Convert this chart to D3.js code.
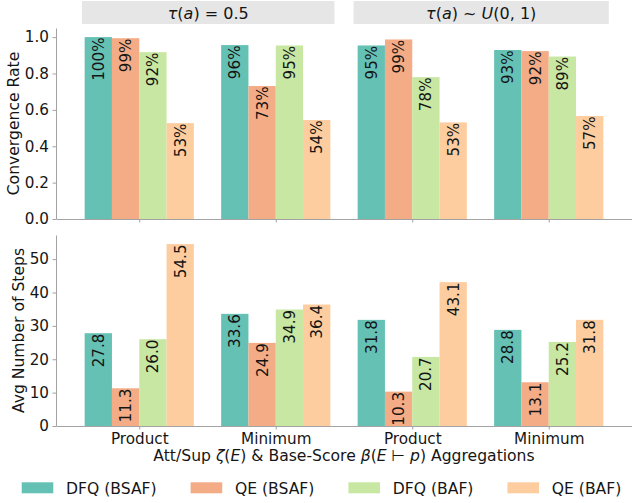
<!DOCTYPE html>
<html>
<head>
<meta charset="utf-8">
<script src="https://cdn.jsdelivr.net/npm/d3@7"></script>
<style>
  html, body { margin: 0; padding: 0; background: #fff; }
  svg { display: block; font-family: "DejaVu Sans", sans-serif; }
</style>
</head>
<body>
<svg id="chart" width="632" height="503"></svg>
<script>
// ---------------- DATA ----------------
const categories = ["Product", "Minimum", "Product", "Minimum"];
const seriesNames = ["DFQ (BSAF)", "QE (BSAF)", "DFQ (BAF)", "QE (BAF)"];
const seriesColors = ["#66c1b5", "#f4ac86", "#c7e7a2", "#fdcd9f"];

// Convergence rate (fraction) per series, across the 4 category positions
const convDFQ_BSAF = [1.00, 0.956, 0.954, 0.929];
const convQE_BSAF  = [0.994, 0.731, 0.987, 0.923];
const convDFQ_BAF  = [0.917, 0.954, 0.780, 0.893];
const convQE_BAF   = [0.527, 0.544, 0.531, 0.566];

// Avg number of steps per series
const stepsDFQ_BSAF = [27.8, 33.6, 31.8, 28.8];
const stepsQE_BSAF  = [11.3, 24.9, 10.3, 13.1];
const stepsDFQ_BAF  = [26.0, 34.9, 20.7, 25.2];
const stepsQE_BAF   = [54.5, 36.4, 43.1, 31.8];

const convTicks  = [0, 0.2, 0.4, 0.6, 0.8, 1.0];
const stepsTicks = [0, 10, 20, 30, 40, 50];

// Panel headers (spans over category positions)
const headerSpans = [[-0.42, 1.43], [1.57, 3.44]];

// ---------------- DRAW ----------------
const svg = d3.select("#chart");
const convData = [convDFQ_BSAF, convQE_BSAF, convDFQ_BAF, convQE_BAF];
const stepsData = [stepsDFQ_BSAF, stepsQE_BSAF, stepsDFQ_BAF, stepsQE_BAF];

const x = d3.scaleLinear().domain([-0.61, 3.61]).range([56, 632]);
const barW = 0.2;
const yTop = d3.scaleLinear().domain([0, 1.05]).range([219, 28]);
const yBot = d3.scaleLinear().domain([0, d3.max(stepsData.flat()) * 1.05]).range([426, 235]);

const spineColor = "#a3a3a3";
const textColor = "#151515";
const tickFont = 15.2;
const labelFont = 15.6;
const barFont = 15.2;

// Headers
const headerG = svg.append("g");
headerSpans.forEach(([a, b]) => {
  headerG.append("rect")
    .attr("x", x(a)).attr("y", 1)
    .attr("width", x(b) - x(a)).attr("height", 23)
    .attr("fill", "#e6e6e6");
});
function header(cx, parts) {
  const t = headerG.append("text")
    .attr("x", cx).attr("y", 18.6)
    .attr("text-anchor", "middle")
    .attr("font-size", 16).attr("fill", textColor);
  parts.forEach(([s, it]) => t.append("tspan").text(s).attr("font-style", it ? "italic" : "normal"));
}
header((x(headerSpans[0][0]) + x(headerSpans[0][1])) / 2,
  [["τ", true], ["(", false], ["a", true], [") = 0.5", false]]);
header((x(headerSpans[1][0]) + x(headerSpans[1][1])) / 2,
  [["τ", true], ["(", false], ["a", true], [") ~ ", false], ["U", true], ["(0, 1)", false]]);

function panel(data, y, ticks, fmtTick, fmtLabel, showX) {
  const g = svg.append("g");
  data.forEach((vals, si) => {
    const off = -0.4 + barW * si;
    vals.forEach((v, ci) => {
      const x0 = x(ci + off), x1 = x(ci + off + barW);
      g.append("rect")
        .attr("x", x0).attr("y", y(v))
        .attr("width", x1 - x0).attr("height", y(0) - y(v))
        .attr("fill", seriesColors[si]);
      const cx = (x0 + x1) / 2;
      g.append("text")
        .attr("transform", `translate(${cx},${y(v) + 0.3}) rotate(-90)`)
        .attr("text-anchor", "end")
        .attr("dy", "0.36em")
        .attr("font-size", barFont)
        .attr("fill", textColor)
        .text(fmtLabel(v));
    });
  });
  const ya = g.append("g").attr("transform", `translate(${x.range()[0]},0)`)
    .call(d3.axisLeft(y).tickValues(ticks).tickFormat(fmtTick).tickSize(3.5).tickPadding(3.5).tickSizeOuter(0));
  const xa = g.append("g").attr("transform", `translate(0,${y(0)})`)
    .call(d3.axisBottom(x).tickValues([0, 1, 2, 3]).tickFormat(i => showX ? categories[i] : "")
      .tickSize(3.5).tickPadding(3.5).tickSizeOuter(0));
  [ya, xa].forEach(a => {
    a.select(".domain").attr("stroke", spineColor).attr("stroke-width", 1);
    a.selectAll(".tick line").attr("stroke", spineColor);
    a.selectAll(".tick text").attr("fill", textColor).attr("font-size", tickFont)
      .attr("font-family", "DejaVu Sans, sans-serif");
  });
  return g;
}

panel(convData, yTop, convTicks, d3.format(".1f"), v => Math.round(v * 100) + "%", false);
panel(stepsData, yBot, stepsTicks, d3.format("d"), v => v.toFixed(1), true);

// Y labels
svg.append("text")
  .attr("transform", `translate(18.5,${(yTop.range()[0] + yTop.range()[1]) / 2}) rotate(-90)`)
  .attr("text-anchor", "middle").attr("font-size", labelFont).attr("fill", textColor)
  .text("Convergence Rate");
svg.append("text")
  .attr("transform", `translate(23.5,${(yBot.range()[0] + yBot.range()[1]) / 2}) rotate(-90)`)
  .attr("text-anchor", "middle").attr("font-size", labelFont).attr("fill", textColor)
  .text("Avg Number of Steps");

// X label
const xl = svg.append("text")
  .attr("x", (x.range()[0] + x.range()[1]) / 2).attr("y", 461)
  .attr("text-anchor", "middle").attr("font-size", labelFont).attr("fill", textColor);
[["Att/Sup ", false], ["ζ", true], ["(", false], ["E", true], [") & Base-Score ", false],
 ["β", true], ["(", false], ["E", true], [" ⊢ ", false], ["p", true], [") Aggregations", false]]
  .forEach(([s, it]) => xl.append("tspan").text(s).attr("font-style", it ? "italic" : "normal"));

// Legend
const lg = svg.append("g");
let lx = 21.7;
seriesNames.forEach((name, i) => {
  lg.append("rect").attr("x", lx).attr("y", 482.3).attr("width", 31.6).attr("height", 11)
    .attr("fill", seriesColors[i]);
  const t = lg.append("text").attr("x", lx + 44.3).attr("y", 493.8)
    .attr("font-size", labelFont).attr("fill", textColor).text(name);
  lx += 44.3 + t.node().getComputedTextLength() + 34;
});
</script>
</body>
</html>
